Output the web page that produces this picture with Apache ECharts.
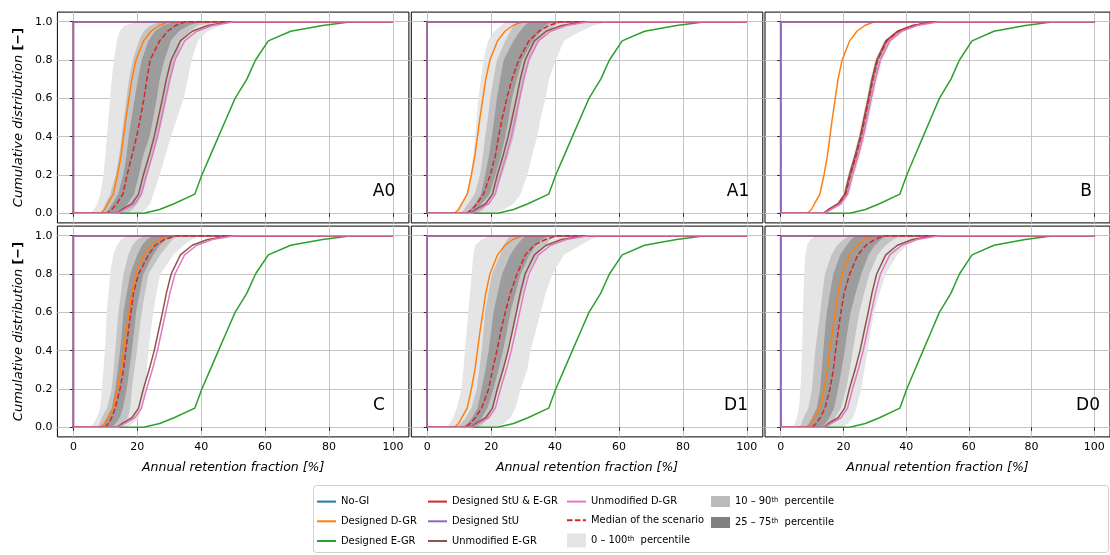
<!DOCTYPE html>
<html>
<head>
<meta charset="utf-8">
<script src="https://cdn.jsdelivr.net/npm/echarts@6/dist/echarts.min.js"></script>
<style>html,body{margin:0;padding:0;background:#fff;}#main{width:1110px;height:555px;}</style>
</head>
<body>
<div id="main"></div>
<script>
// cumulative probability levels at which x-values were read
const YQ = [0, 0.02, 0.05, 0.1, 0.2, 0.3, 0.4, 0.5, 0.6, 0.7, 0.8, 0.9, 0.95, 0.98, 1];
const xTicks = [0, 20, 40, 60, 80, 100];
const yTicks = [0, 0.2, 0.4, 0.6, 0.8, 1.0];
const panels = ['A0', 'A1', 'B', 'C', 'D1', 'D0'];

// common curves (annual retention fraction [%] at each YQ level)
const noGI        = [0, 0, 0, 0, 0, 0, 0, 0, 0, 0, 0, 0, 0, 0, 0];
const designedStU = [0, 0, 0, 0, 0, 0, 0, 0, 0, 0, 0, 0, 0, 0, 0];
const designedStUEGR = [0, 0, 0, 0, 0, 0, 0, 0, 0, 0, 0, 0, 0, 0, 0];
const designedDGR = [8.5, 9.8, 10.8, 12.5, 13.8, 14.9, 15.7, 16.5, 17.4, 18.3, 19.6, 22.0, 24.3, 26.8, 29.8];
const designedEGR = [22, 27, 31.5, 38, 40.2, 42.8, 45.4, 48, 50.6, 54.3, 57, 61, 68, 78, 87];
const unmodEGR    = [13.6, 15.2, 18.3, 20.4, 21.9, 23.7, 25.3, 26.6, 27.9, 29.1, 30.6, 33.5, 37.2, 42.0, 49.0];
const unmodDGR    = [14.0, 16.0, 19.2, 21.3, 22.9, 24.7, 26.3, 27.6, 28.9, 30.2, 31.8, 34.8, 38.6, 43.5, 50.5];

// scenario A0
const median_A0 = [10.4, 12, 13.6, 15.5, 16.8, 18.3, 19.8, 21, 22.1, 23, 24, 27, 29.5, 32, 35];
const p0_A0   = [5.5, 6.5, 7.5, 8.4, 9.4, 10, 10.5, 11, 11.5, 12, 12.7, 13.6, 14.5, 16, 20];
const p10_A0  = [8.5, 9.2, 10, 11.5, 13.2, 14.3, 15.1, 15.8, 16.6, 17.4, 18.6, 20.5, 22, 24, 27];
const p25_A0  = [10, 11, 12.2, 14, 15.6, 16.6, 17.3, 18.2, 19.2, 20.2, 21.4, 23.5, 25.5, 28, 32];
const p75_A0  = [14, 15.5, 17, 19, 20.5, 21.8, 23.8, 25, 26.1, 27, 28.5, 30.5, 33, 36, 40];
const p90_A0  = [17, 18.5, 20, 21.5, 23.2, 24.8, 26.6, 28, 29.3, 30.5, 32, 34, 36.5, 39, 45];
const p100_A0 = [21, 22.5, 24, 25, 27, 28.8, 30.5, 32.5, 34.5, 35.8, 37, 39, 42, 46, 50];

// scenario A1
const median_A1 = [12.3, 14, 15.5, 17.6, 19.7, 21.3, 22.3, 23.5, 24.9, 26.5, 28.6, 31.8, 35, 38, 41.8];
const p0_A1   = [8.3, 9.5, 10.8, 12.3, 13.5, 14.3, 15, 15.5, 16, 16.8, 17.6, 19, 21, 23, 25];
const p10_A1  = [10.5, 11.5, 12.8, 14.8, 16.5, 17.4, 18.1, 19, 19.7, 20.7, 21.8, 24.4, 26, 27, 28];
const p25_A1  = [12, 13.5, 15, 16.8, 18.1, 19.3, 20.2, 21, 21.8, 22.8, 23.9, 27, 29, 30.5, 32];
const p75_A1  = [14, 15.5, 17, 19.5, 21.3, 23, 24.4, 25.5, 26.5, 28, 29.7, 33, 35.5, 37, 39];
const p90_A1  = [16, 17.5, 18.6, 21, 23.4, 25.3, 27, 28.2, 29.2, 30.5, 31.8, 35, 38, 40, 42];
const p100_A1 = [20.7, 24, 27, 29.2, 31.3, 32.8, 34.4, 35.5, 37, 38.1, 40.2, 42.8, 48, 52, 56.5];

// scenario B
const median_B = [13.8, 15.5, 18.6, 20.7, 22.2, 24, 25.6, 26.9, 28.2, 29.4, 30.9, 33.8, 37.5, 42.3, 49.3];
const p0_B   = [13.2, 14.8, 17.8, 19.9, 21.4, 23.2, 24.8, 26.1, 27.4, 28.6, 30.1, 33, 36.7, 41.4, 48.4];
const p10_B  = [13.5, 15.1, 18.2, 20.3, 21.8, 23.6, 25.2, 26.5, 27.8, 29, 30.5, 33.4, 37.1, 41.9, 48.9];
const p25_B  = [13.6, 15.3, 18.4, 20.5, 22, 23.8, 25.4, 26.7, 28, 29.2, 30.7, 33.6, 37.3, 42.1, 49.1];
const p75_B  = [14, 15.8, 19, 21.1, 22.6, 24.4, 26, 27.3, 28.6, 29.8, 31.3, 34.3, 38, 42.8, 49.8];
const p90_B  = [14.2, 16.1, 19.3, 21.4, 23, 24.8, 26.4, 27.7, 29, 30.3, 31.9, 34.9, 38.7, 43.6, 50.6];
const p100_B = [14.6, 16.6, 19.8, 21.9, 23.5, 25.3, 26.9, 28.2, 29.5, 30.8, 32.4, 35.4, 39.2, 44.1, 51.1];

// scenario C
const median_C = [9.9, 11, 12, 13.1, 14.6, 15.7, 16.4, 17.2, 18, 18.8, 20.4, 23.5, 25.6, 28.5, 32.4];
const p0_C   = [5.2, 6.3, 7.3, 8.4, 8.9, 9.4, 9.9, 10.2, 10.4, 11, 11.5, 12.5, 13.6, 15, 16.7];
const p10_C  = [7.5, 8.2, 8.9, 10.5, 12, 12.6, 13.1, 13.6, 14.1, 14.9, 15.7, 17.2, 18.5, 20, 22];
const p25_C  = [8.5, 9.5, 10.5, 12, 13.1, 13.9, 14.6, 15.2, 15.7, 16.7, 17.8, 20, 21.5, 23, 25];
const p75_C  = [12, 13.2, 14.5, 15.5, 16.7, 17.5, 18.3, 19, 19.6, 20.7, 21.9, 25, 27, 29, 31];
const p90_C  = [13.5, 15, 17, 17.8, 18.3, 19.1, 19.9, 20.6, 21.4, 22.4, 23.5, 27.2, 29.5, 31, 33];
const p100_C = [16.7, 18.5, 20.4, 21.4, 22.5, 23, 23.5, 24.2, 25, 26, 27.2, 31.3, 34.5, 37, 39.7];

// scenario D1
const median_D1 = [11.8, 13.5, 15, 17, 19.2, 20.4, 21.8, 23, 24.4, 26, 28.1, 30.7, 33.4, 37, 40.7];
const p0_D1   = [6, 7, 8.1, 9.2, 10.7, 11.3, 11.8, 12.3, 12.8, 13.4, 13.9, 14.4, 15, 17, 19.7];
const p10_D1  = [9, 10.5, 12, 13.8, 15.5, 16.3, 17, 17.6, 18.1, 19.1, 20.2, 22.8, 24, 25, 26];
const p25_D1  = [11, 12.5, 14, 15.7, 17, 18.2, 19.2, 20, 20.7, 22, 23.4, 26, 28, 29.5, 31];
const p75_D1  = [14, 15.5, 17, 18.8, 20.7, 22.3, 23.7, 24.9, 26, 27.6, 29.2, 32, 34, 36, 38];
const p90_D1  = [16, 17.5, 19, 20.7, 22.3, 24, 25.5, 26.8, 28.1, 29.7, 31.3, 34.4, 37, 38.5, 40];
const p100_D1 = [21.8, 24, 26, 27.6, 29.2, 31.3, 32.3, 33.9, 35.5, 37, 39.2, 42.8, 48, 51, 54.4];

// scenario D0
const median_D0 = [10, 11.3, 12.6, 14.1, 15.7, 16.8, 17.5, 18.3, 19.2, 20.2, 22, 24.6, 27.2, 30, 33];
const p0_D0   = [3.7, 4.5, 5.2, 5.8, 6.3, 6.6, 6.8, 7, 7.1, 7.3, 7.5, 7.9, 8.4, 9.5, 11];
const p10_D0  = [6, 6.6, 7.3, 8.8, 10, 10.5, 11, 11.8, 12.6, 13.3, 14.1, 16.2, 18, 20, 22];
const p25_D0  = [8, 9, 10, 11.5, 12.6, 13.1, 13.6, 14.1, 14.7, 15.7, 16.8, 19, 21, 22.5, 24];
const p75_D0  = [13, 14.2, 15.5, 17, 18.3, 19.4, 20.4, 21.3, 22.3, 23.9, 25.7, 28, 30, 32, 34];
const p90_D0  = [15, 16.2, 17.3, 19.2, 20.9, 22, 23, 24, 25.1, 26.6, 28.3, 30.9, 33.5, 36, 38];
const p100_D0 = [19.9, 21.5, 23, 24.1, 25.7, 26.7, 27.7, 28.7, 29.8, 31.5, 33.5, 37.2, 40.3, 43.5, 46.6];

const medians = [median_A0, median_A1, median_B, median_C, median_D1, median_D0];
const p0s   = [p0_A0, p0_A1, p0_B, p0_C, p0_D1, p0_D0];
const p10s  = [p10_A0, p10_A1, p10_B, p10_C, p10_D1, p10_D0];
const p25s  = [p25_A0, p25_A1, p25_B, p25_C, p25_D1, p25_D0];
const p75s  = [p75_A0, p75_A1, p75_B, p75_C, p75_D1, p75_D0];
const p90s  = [p90_A0, p90_A1, p90_B, p90_C, p90_D1, p90_D0];
const p100s = [p100_A0, p100_A1, p100_B, p100_C, p100_D1, p100_D0];

// ---------------- layout / style ----------------
const FONT = 'DejaVu Sans';
const LEG_FONT = "'DejaVu Sans Condensed', 'DejaVu Sans'";
const gridLefts = [57.4, 411.3, 765];
const gridTops = [12.1, 226.1];
const GW = 351.5, GH = 210.8;
const labelPos = [[384, 192], [738, 192], [1086, 192], [379, 406], [736, 406], [1088, 406]];

const C = {
  blue: '#1f77b4', orange: '#ff7f0e', green: '#2ca02c', red: '#d62728',
  purple: '#9467bd', brown: '#8c564b', pink: '#e377c2'
};
const bandPlot = ['#e5e5e5', '#c4c4c4', '#9c9c9c'];
const bandLeg = ['#e5e5e5', '#bbbbbb', '#808080'];

function cdf(xs) {
  const d = [[0, 0]];
  for (let k = 0; k < YQ.length; k++) d.push([xs[k], YQ[k]]);
  d.push([100, 1]);
  return d;
}

const grids = [], xAxes = [], yAxes = [], series = [], graphics = [];
panels.forEach((p, i) => {
  const row = Math.floor(i / 3), col = i % 3;
  grids.push({left: gridLefts[col], top: gridTops[row], width: GW, height: GH,
    show: true, borderColor: '#000', borderWidth: 1, backgroundColor: 'transparent'});
  xAxes.push({
    type: 'value', gridIndex: i, min: -5, max: 105,
    axisLine: {show: false},
    axisTick: {show: true, customValues: xTicks, length: 3.5, lineStyle: {color: '#000', width: 0.8}},
    axisLabel: {show: row === 1, customValues: xTicks, fontFamily: FONT, fontSize: 11, color: '#000', margin: 5},
    splitLine: {show: true, customValues: xTicks, lineStyle: {color: '#c4c4c4', width: 1}},
    name: row === 1 ? 'Annual retention fraction [%]' : '',
    nameLocation: 'middle', nameGap: 24,
    nameTextStyle: {fontFamily: FONT, fontStyle: 'italic', fontSize: 12.5, color: '#000'}
  });
  yAxes.push({
    type: 'value', gridIndex: i, min: -0.05, max: 1.05,
    axisLine: {show: false},
    axisTick: {show: true, customValues: yTicks, length: 3.5, lineStyle: {color: '#000', width: 0.8}},
    axisLabel: {show: col === 0, customValues: yTicks, fontFamily: FONT, fontSize: 11, color: '#000', margin: 5,
      formatter: v => v.toFixed(1)},
    splitLine: {show: true, customValues: yTicks, lineStyle: {color: '#c4c4c4', width: 1}},
    name: col === 0 ? 'Cumulative distribution {b|[−]}' : '',
    nameLocation: 'middle', nameGap: 32, nameRotate: 90,
    nameTextStyle: {fontFamily: FONT, fontStyle: 'italic', fontSize: 13, color: '#000',
      rich: {b: {fontFamily: FONT, fontStyle: 'normal', fontWeight: 'bold', fontSize: 13, color: '#000'}}}
  });

  const bands = [['0-100', p0s[i], p100s[i]], ['10-90', p10s[i], p90s[i]], ['25-75', p25s[i], p75s[i]]];
  bands.forEach((b, k) => {
    const left = b[1], right = b[2];
    series.push({
      type: 'custom', name: b[0], xAxisIndex: i, yAxisIndex: i, silent: true, z: 1 + k,
      itemStyle: {color: bandPlot[k]},
      data: [[0, 0]],
      renderItem: (params, api) => {
        const pts = [];
        for (let m = 0; m < YQ.length; m++) pts.push(api.coord([left[m], YQ[m]]));
        for (let m = YQ.length - 1; m >= 0; m--) pts.push(api.coord([right[m], YQ[m]]));
        return {type: 'polygon', shape: {points: pts}, style: {fill: bandPlot[k]}};
      }
    });
  });

  // drawing order (legend order is set separately)
  const lines = [
    ['No-GI', [[0, 0], [noGI[YQ.length - 1], 1], [100, 1]], C.blue, 'solid'],
    ['Designed D-GR', cdf(designedDGR), C.orange, 'solid'],
    ['Designed E-GR', cdf(designedEGR), C.green, 'solid'],
    ['Designed StU & E-GR', [[0, 0], [designedStUEGR[YQ.length - 1], 1], [100, 1]], C.red, 'solid'],
    ['Designed StU', [[0, 0], [designedStU[YQ.length - 1], 1], [100, 1]], C.purple, 'solid'],
    ['Unmodified E-GR', cdf(unmodEGR), C.brown, 'solid'],
    ['Median of the scenario', cdf(medians[i]), C.red, [5.5, 2.4]],
    ['Unmodified D-GR', cdf(unmodDGR), C.pink, 'solid']
  ];
  lines.forEach((l, k) => {
    series.push({
      type: 'line', name: l[0], xAxisIndex: i, yAxisIndex: i, data: l[1],
      symbol: 'none', silent: true, animation: false, z: 10 + k,
      color: l[2],
      lineStyle: {color: l[2], width: 1.5, type: l[3]}
    });
  });

  graphics.push({type: 'text', x: labelPos[i][0], y: labelPos[i][1], z: 100,
    style: {text: p, font: '17px ' + FONT, fill: '#000', align: 'center', verticalAlign: 'middle'}});
});

// legend frame
graphics.push({type: 'rect', shape: {x: 313.5, y: 485.5, width: 795, height: 67, r: 3},
  style: {fill: 'rgba(255,255,255,0.8)', stroke: '#d0d0d0', lineWidth: 1}, z: -1});

const legTxt = {fontFamily: LEG_FONT, fontSize: 11, color: '#000',
  rich: {s: {fontFamily: LEG_FONT, fontSize: 7.5, verticalAlign: 'top', lineHeight: 7, color: '#000', padding: [0, 0, 5, 0]}}};
const legFormatter = name => {
  if (name === '0-100') return '0 – 100{s|th}  percentile';
  if (name === '10-90') return '10 – 90{s|th}  percentile';
  if (name === '25-75') return '25 – 75{s|th}  percentile';
  return name;
};
function mkLegend(names, left, top, iw, ih, gap) {
  return {
    orient: 'vertical', left: left, top: top, itemWidth: iw, itemHeight: ih, itemGap: gap,
    selectedMode: false, textStyle: legTxt, formatter: legFormatter, padding: 0,
    itemStyle: {opacity: 0},
    data: names.map(n => {
      const idx = ['0-100', '10-90', '25-75'].indexOf(n);
      if (idx >= 0) return {name: n, icon: 'rect', itemStyle: {color: bandLeg[idx], opacity: 1}};
      return {name: n};
    })
  };
}
const legends = [
  mkLegend(['No-GI', 'Designed D-GR', 'Designed E-GR'], 316, 496, 19, 14, 8.5),
  mkLegend(['Designed StU & E-GR', 'Designed StU', 'Unmodified E-GR'], 427, 496, 19, 14, 8.5),
  mkLegend(['Unmodified D-GR', 'Median of the scenario', '0-100'], 566, 496, 19, 14, 7.5),
  mkLegend(['10-90', '25-75'], 711, 496, 19, 11, 8)
];

const chart = echarts.init(document.getElementById('main'), null, {renderer: 'canvas'});
chart.setOption({
  animation: false,
  backgroundColor: '#fff',
  textStyle: {fontFamily: FONT},
  grid: grids, xAxis: xAxes, yAxis: yAxes, series: series,
  legend: legends,
  graphic: graphics
});
</script>
</body>
</html>
